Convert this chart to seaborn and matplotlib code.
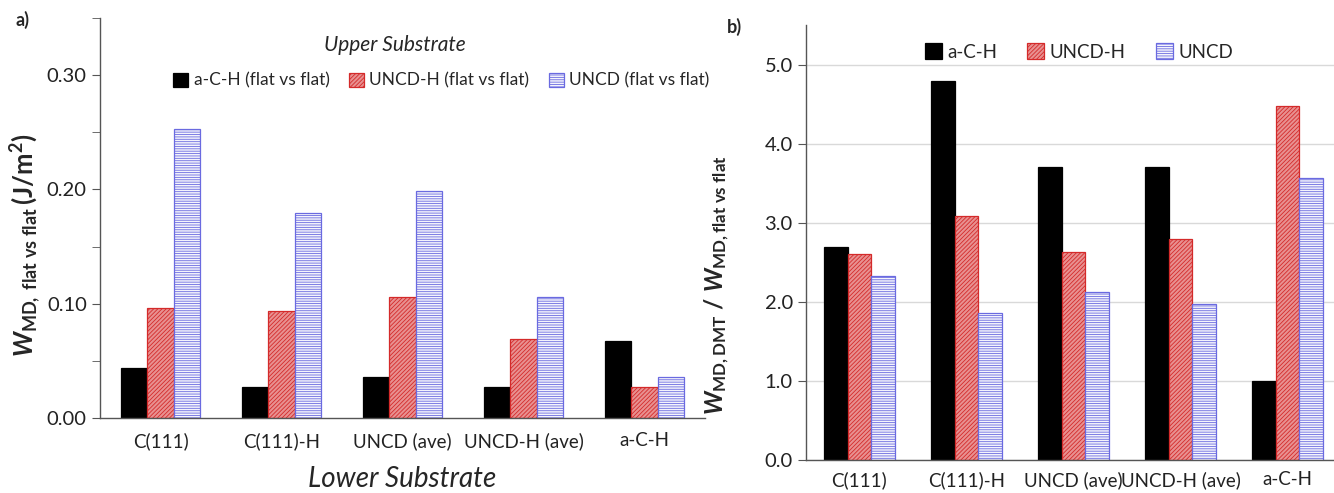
import numpy as np
import pandas as pd
import seaborn as sns
import matplotlib.pyplot as plt
from matplotlib.ticker import FormatStrFormatter, FixedLocator

# categories and series
substrates = ['C(111)', 'C(111)-H', 'UNCD (ave)', 'UNCD-H (ave)', 'a-C-H']
series_a = ['a-C-H (flat vs flat)', 'UNCD-H (flat vs flat)', 'UNCD (flat vs flat)']
series_b = ['a-C-H', 'UNCD-H', 'UNCD']

# panel a) W_MD flat vs flat (J/m2)
a_ach = [0.044, 0.027, 0.036, 0.027, 0.067]
a_uncdh = [0.096, 0.094, 0.106, 0.069, 0.027]
a_uncd = [0.253, 0.179, 0.199, 0.106, 0.036]

# panel b) ratio W_MD,DMT / W_MD,flat vs flat
b_ach = [2.69, 4.79, 3.70, 3.71, 1.00]
b_uncdh = [2.61, 3.09, 2.63, 2.79, 4.47]
b_uncd = [2.33, 1.86, 2.12, 1.97, 3.56]

sns.set_style('white')
plt.rcParams['font.family'] = ['Lato', 'DejaVu Sans']
plt.rcParams['mathtext.fontset'] = 'custom'
plt.rcParams['mathtext.rm'] = 'Lato'
plt.rcParams['mathtext.it'] = 'Lato:italic'
plt.rcParams['mathtext.bf'] = 'Lato:bold'
plt.rcParams['mathtext.bfit'] = 'Lato:italic:bold'
plt.rcParams['hatch.linewidth'] = 0.6


def long_form(names, cols):
    rows = []
    for name, vals in zip(names, cols):
        for sub, v in zip(substrates, vals):
            rows.append({'substrate': sub, 'series': name, 'value': v})
    return pd.DataFrame(rows)


styles = [
    dict(facecolor='black', edgecolor='black', hatch=None),
    dict(facecolor='#e89090', edgecolor='#d42a2a', hatch='////////'),
    dict(facecolor='#f4f4fc', edgecolor='#6a6ae0', hatch='-------'),
]


def draw(ax, df, names):
    sns.barplot(data=df, x='substrate', y='value', hue='series', hue_order=names,
                order=substrates, palette=['black', 'red', 'blue'], width=0.66,
                ax=ax, legend=False, saturation=1)
    for cont, st in zip(ax.containers, styles):
        for p in cont:
            p.set_facecolor(st['facecolor'])
            p.set_edgecolor(st['edgecolor'])
            p.set_linewidth(0.9)
            if st['hatch']:
                p.set_hatch(st['hatch'])
    ax.set_xlim(-0.5, 4.5)
    ax.set_xlabel('')
    ax.set_ylabel('')
    ax.tick_params(axis='x', which='major', length=0, labelsize=13.5, pad=10, colors='#222222')
    ax.xaxis.set_minor_locator(FixedLocator([0.5, 1.5, 2.5, 3.5]))
    ax.tick_params(axis='x', which='minor', length=6, direction='out', color='#555555')
    ax.tick_params(axis='y', which='both', length=6, direction='out', color='#555555',
                   labelsize=14.5, left=True, labelcolor='#222222')
    sns.despine(ax=ax)
    for s in ['left', 'bottom']:
        ax.spines[s].set_color('#555555')
        ax.spines[s].set_linewidth(1.0)


fig = plt.figure(figsize=(13.34, 4.93), dpi=100)

# ---- panel a
ax1 = fig.add_axes([100 / 1334, 75 / 493, 605 / 1334, 400 / 493])
draw(ax1, long_form(series_a, [a_ach, a_uncdh, a_uncd]), series_a)
ax1.set_ylim(0, 0.35)
ax1.yaxis.set_major_locator(FixedLocator([0, 0.1, 0.2, 0.3]))
ax1.yaxis.set_minor_locator(FixedLocator([0.05, 0.15, 0.25, 0.35]))
ax1.yaxis.set_major_formatter(FormatStrFormatter('%.2f'))
fig.text(26 / 1334, 1 - 245 / 493,
         r'$\mathbfit{W}_{\mathbf{MD,\ flat\ vs\ flat}}\,\mathbf{(J/m^2)}$',
         fontsize=18.5, rotation=90, ha='center', va='center')
ax1.set_xlabel('Lower Substrate', fontsize=20, style='italic', labelpad=12)
ax1.legend(handles=ax1.containers, labels=series_a, ncol=3, frameon=False,
           loc='center', bbox_to_anchor=(0.564, 0.843), fontsize=12.5,
           handlelength=0.9, handleheight=0.9, handletextpad=0.3, columnspacing=1.1)
fig.text(395 / 1334, 1 - 45 / 493, 'Upper Substrate', fontsize=15, style='italic',
         ha='center', va='center')
fig.text(15 / 1334, 1 - 20 / 493, 'a)', fontsize=13, fontweight='bold', ha='left', va='center')

# ---- panel b
ax2 = fig.add_axes([806 / 1334, 33 / 493, 535 / 1334, 435 / 493])
draw(ax2, long_form(series_b, [b_ach, b_uncdh, b_uncd]), series_b)
ax2.set_ylim(0, 5.5)
ax2.yaxis.set_major_locator(FixedLocator([0, 1, 2, 3, 4, 5]))
ax2.yaxis.set_major_formatter(FormatStrFormatter('%.1f'))
ax2.grid(axis='y', color='#d9d9d9', linewidth=1.0)
ax2.set_axisbelow(True)
fig.text(717 / 1334, 1 - 285 / 493,
         r'$\mathbfit{W}_{\mathbf{MD,DMT}}\ \mathbf{/}\ \mathbfit{W}_{\mathbf{MD,flat\ vs\ flat}}$',
         fontsize=17.5, rotation=90, ha='center', va='center')
ax2.tick_params(axis='x', which='major', pad=8)
ax2.legend(handles=ax2.containers, labels=series_b, ncol=3, frameon=False,
           loc='center', bbox_to_anchor=(0.51, 0.938), fontsize=13.5,
           handlelength=0.9, handleheight=0.9, handletextpad=0.3, columnspacing=1.6)
fig.text(727 / 1334, 1 - 27 / 493, 'b)', fontsize=13, fontweight='bold', ha='left', va='center')

fig.savefig('out.png', dpi=100)
